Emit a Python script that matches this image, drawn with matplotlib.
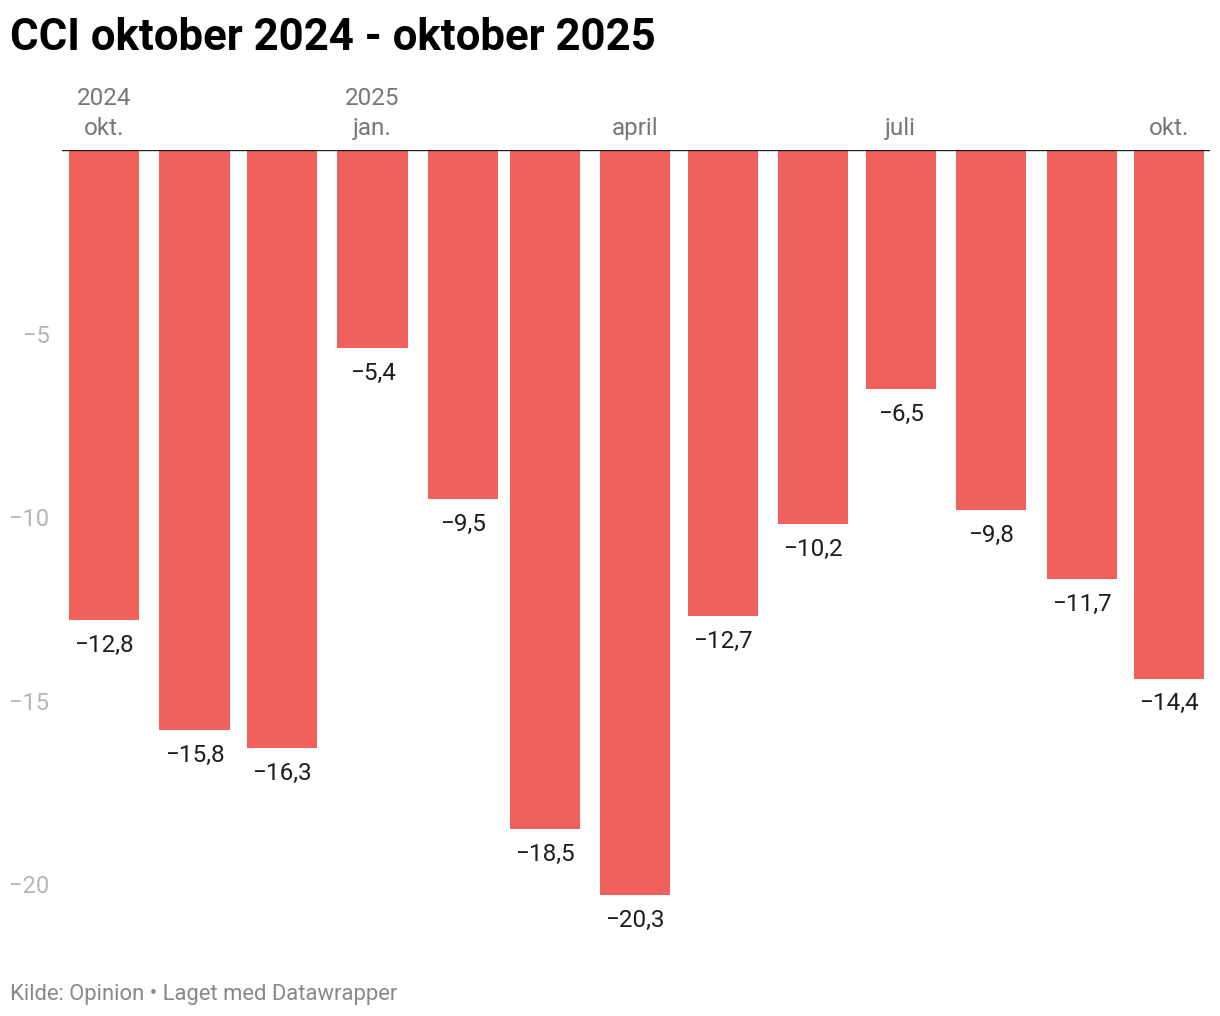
import matplotlib
matplotlib.use("Agg")
import matplotlib.pyplot as plt
import matplotlib.dates as mdates
from datetime import date, timedelta

plt.rcParams['font.family'] = ['Roboto', 'DejaVu Sans']

months = ["2024-10", "2024-11", "2024-12", "2025-01", "2025-02", "2025-03", "2025-04",
          "2025-05", "2025-06", "2025-07", "2025-08", "2025-09", "2025-10"]
values = [-12.8, -15.8, -16.3, -5.4, -9.5, -18.5, -20.3, -12.7, -10.2, -6.5, -9.8, -11.7, -14.4]
tick_months = ["2024-10", "2025-01", "2025-04", "2025-07", "2025-10"]
tick_labels = ["2024\nokt.", "2025\njan.", "april", "juli", "okt."]
y_ticks = [-5, -10, -15, -20]
y_tick_labels = ["\u22125", "\u221210", "\u221215", "\u221220"]

def to_date(m):
    y, mo = m.split("-")
    return date(int(y), int(mo), 1)

W, H = 1220, 1016
fig = plt.figure(figsize=(W/100, H/100), dpi=100)
ax = fig.add_axes([62/W, 1-930/H, (1210-62)/W, (930-150)/H])

bar_days = 24
starts = [mdates.date2num(to_date(m)) for m in months]
ax.bar(starts, values, width=bar_days, align='edge', color='#f0605d', linewidth=0)

for s, v in zip(starts, values):
    lbl = ("\u2212" if v < 0 else "") + f"{abs(v):.1f}".replace(".", ",")
    ax.annotate(lbl, (s + bar_days/2, v), xytext=(0, -10), textcoords='offset points',
                ha='center', va='top', fontsize=17.5, color='#1d1d1d')

x0 = mdates.date2num(date(2024, 10, 1))
x1 = mdates.date2num(date(2025, 10, 1))
ax.set_xlim(x0 - 2.4, x1 + 26.0)
ax.set_ylim(-21.25, 0)

ax.axhline(0, color='#1d1d1d', linewidth=1.7, zorder=5)

ax.xaxis.tick_top()
ax.set_xticks([mdates.date2num(to_date(m)) + bar_days/2 for m in tick_months])
ax.set_xticklabels(tick_labels, fontsize=17.5, color='#777777', linespacing=1.38)
ax.tick_params(axis='x', length=0, pad=7)

ax.set_yticks(y_ticks)
ax.set_yticklabels(y_tick_labels, fontsize=17, color='#b5b5b5')
ax.tick_params(axis='y', length=0, pad=9)

for sp in ax.spines.values():
    sp.set_visible(False)

fig.text(10/W, 1-50/H, "CCI oktober 2024 - oktober 2025", fontsize=31.5, fontweight='bold',
         color='#000000', ha='left', va='baseline')
fig.text(10/W, 1-1000/H, "Kilde: Opinion \u2022 Laget med Datawrapper", fontsize=15.8,
         color='#888888', ha='left', va='baseline')

fig.savefig("out.png", dpi=100)
